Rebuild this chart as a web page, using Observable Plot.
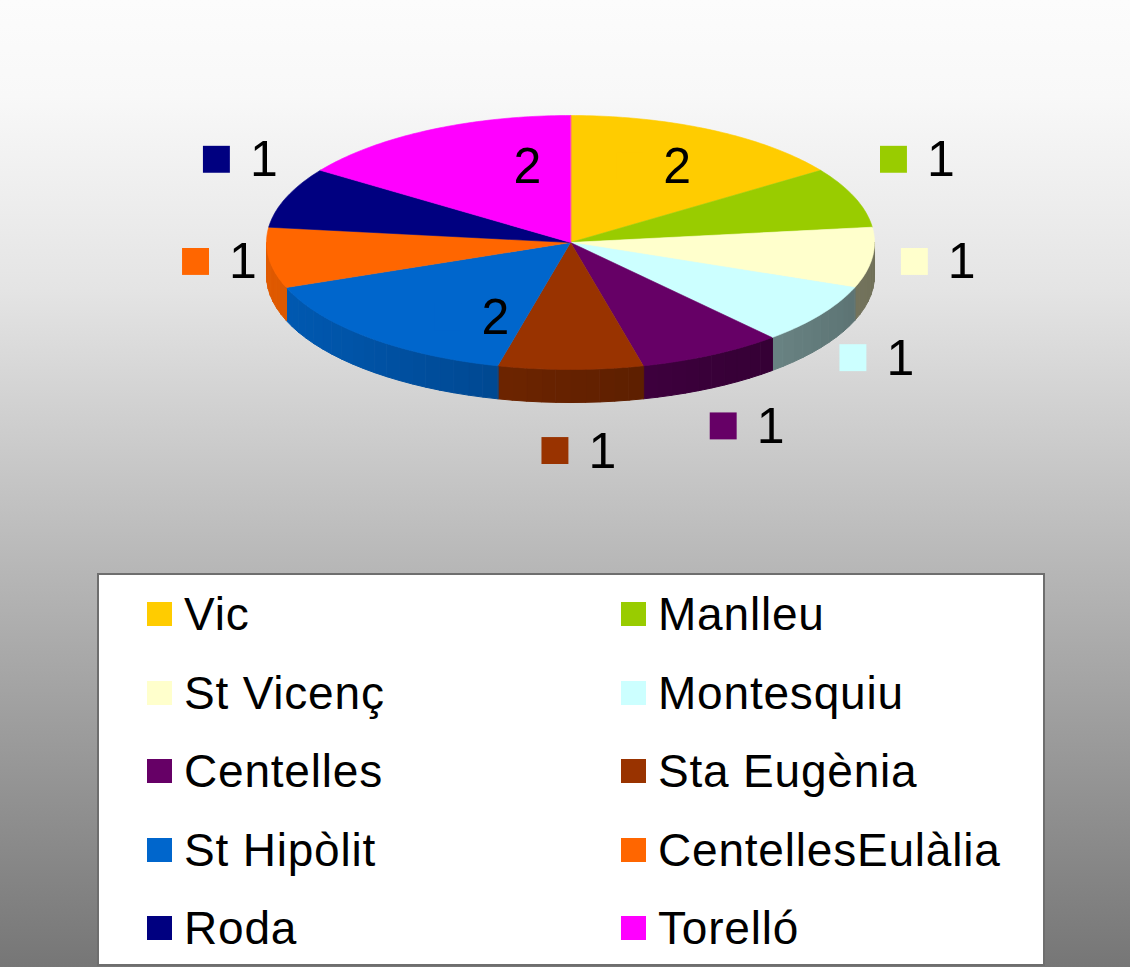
<!DOCTYPE html>
<html>
<head>
<meta charset="utf-8">
<script src="https://cdn.jsdelivr.net/npm/d3@7"></script>
<script src="https://cdn.jsdelivr.net/npm/@observablehq/plot@0.6"></script>
<style>
html, body { margin: 0; padding: 0; }
body {
  width: 1130px; height: 967px; overflow: hidden; position: relative;
  background: linear-gradient(to bottom, #fcfcfc 0%, #f8f8f8 10%, #e4e4e4 30%, #767676 100%);
  font-family: "Liberation Sans", Arial, sans-serif;
}
#chart { position: absolute; left: 0; top: 0; }
#legend {
  position: absolute; left: 97px; top: 573px; width: 944px; height: 389px;
  background: #fff; border: 2px solid #6e6e6e; overflow: hidden;
}
.leg-swatches {
  display: grid !important; grid-template-columns: 474px 420px;
  margin: 0; padding: 0 0 0 48px;
  font-family: "Liberation Sans", Arial, sans-serif; font-size: 46px;
  letter-spacing: 0.8px; color: #000; min-height: 0;
}
.leg-swatch {
  display: flex; align-items: center; height: 78.5px; margin: 0; white-space: nowrap;
}
.leg-swatch > svg { margin-right: 12px; flex-shrink: 0; }
</style>
</head>
<body>
<div id="chart"></div>
<div id="legend"></div>
<script>
// ---- data ----
const names = ["Vic", "Manlleu", "St Vicenç", "Montesquiu", "Centelles",
               "Sta Eugènia", "St Hipòlit", "CentellesEulàlia", "Roda", "Torelló"];
const values = [2, 1, 1, 1, 1, 1, 2, 1, 1, 2];
const colors = ["#ffcc00", "#99cc00", "#ffffcc", "#ccffff", "#660066",
                "#993300", "#0066cc", "#ff6600", "#000080", "#ff00ff"];

// ---- geometry (model units: unit circle, y up) ----
const total = d3.sum(values);
let acc = 0;
const slices = names.map((name, i) => {
  const a0 = acc / total * 2 * Math.PI;
  acc += values[i];
  const a1 = acc / total * 2 * Math.PI;
  return {name, value: values[i], color: colors[i], a0, a1, mid: (a0 + a1) / 2};
});
const DEPTH = 0.26;
const STEP = Math.PI / 180;

function shade(color, f) {
  const c = d3.rgb(color);
  return d3.rgb(c.r * f, c.g * f, c.b * f).formatHex();
}

// front walls
const wallPts = [];
let wid = 0;
for (const s of slices) {
  const lo = Math.max(s.a0, Math.PI / 2), hi = Math.min(s.a1, 3 * Math.PI / 2);
  if (hi <= lo) continue;
  const n = Math.max(1, Math.ceil((hi - lo) / (3 * STEP)));
  for (let k = 0; k < n; k++) {
    const a = lo + (hi - lo) * k / n, b = lo + (hi - lo) * (k + 1) / n;
    const m = (a + b) / 2;
    const fill = shade(s.color, 0.66 - 0.22 * Math.sin(m));
    const key = "w" + (wid++);
    wallPts.push({key, fill, x: Math.sin(a), y: Math.cos(a)});
    wallPts.push({key, fill, x: Math.sin(b), y: Math.cos(b)});
    wallPts.push({key, fill, x: Math.sin(b), y: Math.cos(b) - DEPTH});
    wallPts.push({key, fill, x: Math.sin(a), y: Math.cos(a) - DEPTH});
  }
}

// top faces
const topPts = [];
for (const s of slices) {
  topPts.push({key: s.name, fill: s.color, x: 0, y: 0});
  const n = Math.max(2, Math.ceil((s.a1 - s.a0) / STEP));
  for (let k = 0; k <= n; k++) {
    const a = s.a0 + (s.a1 - s.a0) * k / n;
    topPts.push({key: s.name, fill: s.color, x: Math.sin(a), y: Math.cos(a)});
  }
}

// data labels (inside for large slices, outside otherwise)
const labels = slices.map(s => {
  const sa = Math.sin(s.mid), ca = Math.cos(s.mid);
  const inside = s.value / total >= 0.1;
  return inside
    ? {text: String(s.value), color: s.color, x: 0.059 + 0.53 * sa, y: -0.047 + 0.728 * ca}
    : {text: String(s.value), color: s.color, x: 0.059 + 1.191 * sa, y: 0.047 + 1.693 * ca};
});

const chart = Plot.plot({
  width: 1130,
  height: 570,
  margin: 0,
  style: {background: "transparent", overflow: "visible"},
  x: {domain: [-1, 1], range: [266, 874], axis: null},
  y: {domain: [-1, 1], range: [369, 115], axis: null},
  color: {type: "identity"},
  marks: [
    Plot.line(wallPts, {x: "x", y: "y", z: "key", fill: "fill", stroke: "fill", strokeWidth: 1, curve: "linear-closed"}),
    Plot.line(topPts, {x: "x", y: "y", z: "key", fill: "fill", stroke: "fill", strokeWidth: 0.6, curve: "linear-closed"}),
    Plot.dot(labels, {x: "x", y: "y", symbol: "square", r: 15.2, fill: "color", stroke: null, dx: -33.5, dy: -1}),
    Plot.text(labels, {x: "x", y: "y", text: "text", textAnchor: "start", lineAnchor: "middle",
      fontSize: 50, fill: "#000", fontFamily: "Liberation Sans, Arial, sans-serif"})
  ]
});
document.getElementById("chart").appendChild(chart);

const legend = Plot.legend({
  color: {type: "ordinal", domain: names, range: colors},
  legend: "swatches",
  className: "leg",
  swatchWidth: 25,
  swatchHeight: 24
});
document.getElementById("legend").appendChild(legend);
</script>
</body>
</html>
